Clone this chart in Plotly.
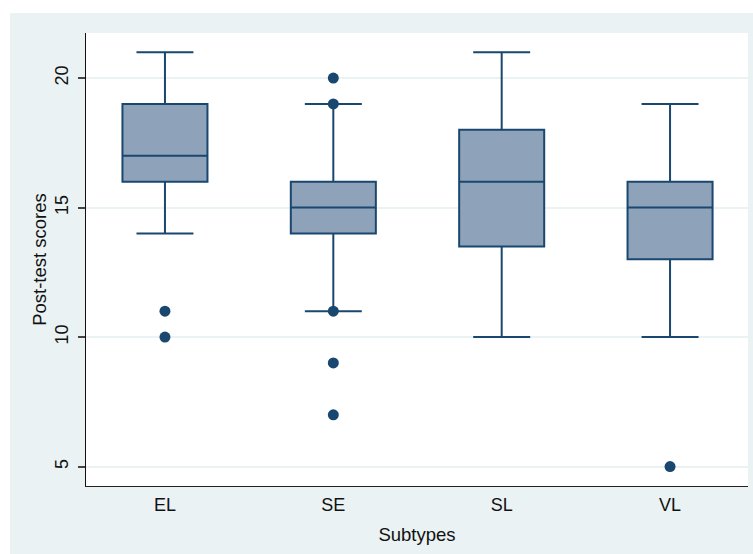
import plotly.graph_objects as go

categories = ["EL", "SE", "SL", "VL"]
q1 = [16, 14, 13.5, 13]
median = [17, 15, 16, 15]
q3 = [19, 16, 18, 16]
lower_whisker = [14, 11, 10, 10]
upper_whisker = [21, 19, 21, 19]
outliers = {
    "EL": [10, 11],
    "SE": [7, 9, 11, 19, 20],
    "SL": [],
    "VL": [5],
}
y_ticks = [5, 10, 15, 20]

NAVY = "#1a476f"
FILL = "#8ea3b9"
BG = "#eaf2f3"
FONT = "Liberation Sans, Arial, Helvetica, sans-serif"

fig = go.Figure()
for i, c in enumerate(categories):
    fig.add_trace(go.Box(
        x=[c], q1=[q1[i]], median=[median[i]], q3=[q3[i]],
        lowerfence=[lower_whisker[i]], upperfence=[upper_whisker[i]],
        boxpoints=False, width=0.505, whiskerwidth=0.67,
        fillcolor=FILL, line=dict(color=NAVY, width=2),
        showlegend=False, hoverinfo="skip",
    ))
    if outliers[c]:
        fig.add_trace(go.Scatter(
            x=[c] * len(outliers[c]), y=outliers[c], mode="markers",
            marker=dict(color=NAVY, size=11), showlegend=False,
        ))

fig.update_layout(
    width=753, height=554,
    margin=dict(l=86, r=5, t=33, b=68, autoexpand=False),
    paper_bgcolor=BG, plot_bgcolor="white",
    font=dict(family=FONT, size=18, color="#111"),
    shapes=[
        dict(type="rect", xref="paper", yref="paper", x0=-0.2, x1=1.2,
             y0=1 + 20 / 453, y1=1.2, fillcolor="white", line=dict(width=0), layer="below"),
        dict(type="rect", xref="paper", yref="paper", x0=-0.2, x1=-76 / 662,
             y0=-0.3, y1=1.2, fillcolor="white", line=dict(width=0), layer="below"),
    ],
)
fig.update_xaxes(
    type="category", categoryorder="array", categoryarray=categories,
    range=[-0.469, 3.463], showgrid=False, ticks="", automargin=False,
    showline=True, linecolor="#222", linewidth=1.2, zeroline=False,
    tickfont=dict(size=18), ticklabelstandoff=2,
    title=dict(text="Subtypes", font=dict(size=18.5), standoff=14),
)
fig.update_yaxes(
    range=[4.25, 21.74], tickvals=y_ticks, ticktext=[str(v) for v in y_ticks],
    showgrid=True, gridcolor=BG, gridwidth=1.5, zeroline=False, automargin=False,
    ticks="outside", ticklen=7, tickcolor="#444", tickwidth=1.5,
    showline=True, linecolor="#111", linewidth=1.2,
    tickangle=-90, tickfont=dict(size=18), ticklabelstandoff=3,
    title=dict(text="Post-test scores", font=dict(size=18.5), standoff=0),
)
fig.write_html("out.html", config={"displayModeBar": False},
               post_script="document.body.style.margin='0';")
